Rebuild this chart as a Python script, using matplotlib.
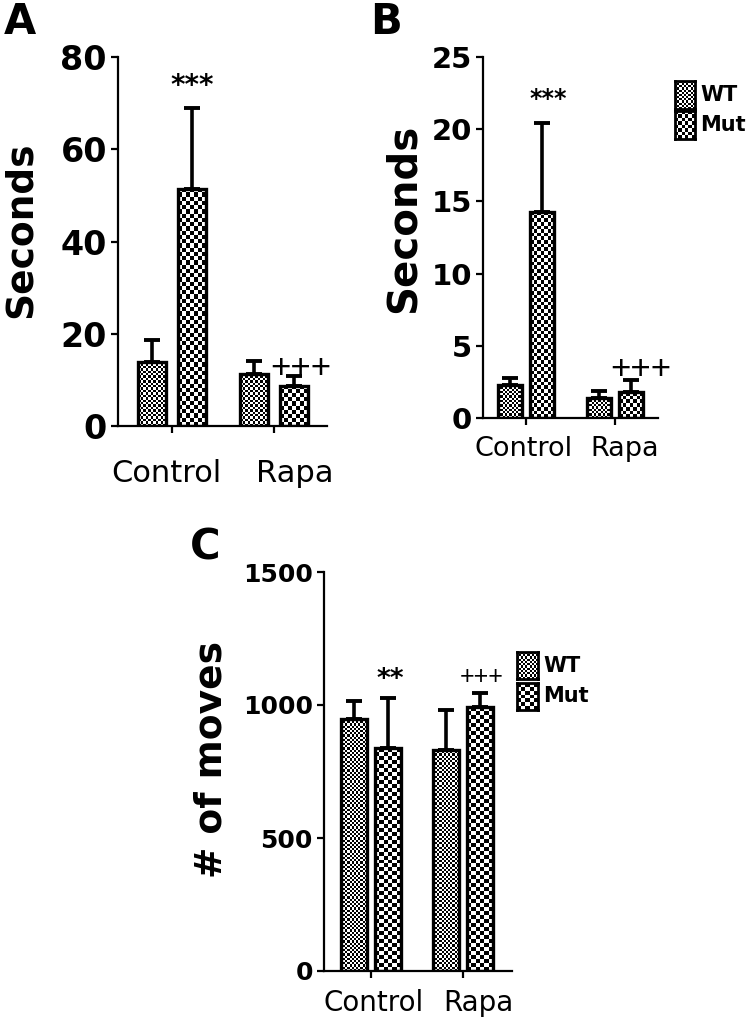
import matplotlib
matplotlib.use("Agg")
import matplotlib.pyplot as plt
from matplotlib.transforms import ScaledTranslation
import numpy as np

plt.rcParams['font.family'] = ['DejaVu Sans']

groups = ["Control", "Rapa"]
series = ["WT", "Mut"]

# panel A - seconds
a_wt = [13.9, 11.3]
a_wt_err = [4.7, 2.8]
a_mut = [51.4, 8.7]
a_mut_err = [17.5, 2.1]

# panel B - seconds
b_wt = [2.3, 1.4]
b_wt_err = [0.5, 0.5]
b_mut = [14.3, 1.8]
b_mut_err = [6.1, 0.8]

# panel C - number of moves
c_wt = [947, 831]
c_wt_err = [68, 150]
c_mut = [838, 992]
c_mut_err = [188, 53]

W, H = 750, 1030
fig = plt.figure(figsize=(7.5, 10.3), dpi=100)


def px_axes(x0, y0, x1, y1):
    # pixel box (top-left origin) -> figure axes
    return fig.add_axes([x0 / W, 1 - y1 / H, (x1 - x0) / W, (y1 - y0) / H])


def checker(ax, bar, cell):
    x0, y0 = bar.get_x(), bar.get_y()
    w, h = bar.get_width(), bar.get_height()
    p0 = ax.transData.transform((x0, y0))
    p1 = ax.transData.transform((x0 + w, y0 + h))
    nx = max(1, int(round((p1[0] - p0[0]) / cell)))
    ny = max(1, int(round((p1[1] - p0[1]) / cell)))
    grid = np.add.outer(np.arange(ny), np.arange(nx)) % 2
    im = ax.imshow(grid, cmap='gray', vmin=0, vmax=1, extent=(x0, x0 + w, y0, y0 + h),
                   origin='lower', aspect='auto', interpolation='nearest', zorder=2)
    im.set_clip_path(bar)


def panel(box, xlim, ylim, yticks, wt, wt_err, mut, mut_err, off, bw,
          tick_fs, cat_fs, cells, cat_pad, cat_dx):
    ax = px_axes(*box)
    ax.set_xlim(*xlim)
    ax.set_ylim(*ylim)
    ax.set_autoscale_on(False)
    x = np.arange(len(groups))
    for vals, errs, d, cell in [(wt, wt_err, -off, cells[0]), (mut, mut_err, off, cells[1])]:
        ax.errorbar(x + d, vals, yerr=[np.zeros(len(vals)), errs], fmt='none',
                    ecolor='black', elinewidth=2.6, capsize=6, capthick=2.8, zorder=1)
        bars = ax.bar(x + d, vals, bw, facecolor='none', edgecolor='black', linewidth=2.4, zorder=3)
        for b in bars:
            checker(ax, b, cell)
    for s in ['top', 'right']:
        ax.spines[s].set_visible(False)
    for s in ['left', 'bottom']:
        ax.spines[s].set_linewidth(1.6)
    ax.set_yticks(yticks)
    ax.set_yticklabels([str(t) for t in yticks], fontsize=tick_fs, fontweight='bold')
    ax.set_xticks(x)
    ax.set_xticklabels(groups, fontsize=cat_fs)
    ax.tick_params(axis='both', length=5, width=1.6, pad=3)
    ax.tick_params(axis='x', pad=cat_pad)
    for lab, dx in zip(ax.get_xticklabels(), cat_dx):
        lab.set_transform(lab.get_transform() + ScaledTranslation(dx / 100, 0, fig.dpi_scale_trans))
    return ax


def legend_box(x0, y0, x1, y1, cell, label, fs):
    lax = px_axes(x0, y0, x1, y1)
    nx = max(1, int(round((x1 - x0) / cell)))
    ny = max(1, int(round((y1 - y0) / cell)))
    grid = np.add.outer(np.arange(ny), np.arange(nx)) % 2
    lax.imshow(grid, cmap='gray', vmin=0, vmax=1, aspect='auto', interpolation='nearest')
    lax.set_xticks([])
    lax.set_yticks([])
    for s in lax.spines.values():
        s.set_linewidth(2.0)
    fig.text((x1 + 5) / W, 1 - (y0 + y1) / 2 / H, label, fontsize=fs, fontweight='bold',
             ha='left', va='center')


def mark(ax, xv, yv, txt, dx, dy, fs, weight='normal', family='DejaVu Sans'):
    ax.annotate(txt, (xv, yv), xytext=(dx, dy), textcoords='offset pixels',
                ha='center', va='center', fontsize=fs, fontweight=weight,
                family=family, annotation_clip=False)


# ---- A ----
axA = panel((118, 57, 327, 426), (-0.529, 1.52), (0, 80), [0, 20, 40, 60, 80],
            a_wt, a_wt_err, a_mut, a_mut_err, 0.195, 0.27, 24, 22, (2.4, 4.2), 19, (-6, 21))
mark(axA, 0.195, a_mut[0] + a_mut_err[0], "***", 0, 22, 20, 'bold')
mark(axA, 1.195, a_mut[1] + a_mut_err[1], "+++", 7, 8, 25, family='Liberation Sans')
fig.text(21 / W, 1 - 230 / H, "Seconds", rotation=90, fontsize=27, fontweight='bold',
         ha='center', va='center')
fig.text(4 / W, 1 - 22 / H, "A", fontsize=30, fontweight='bold', ha='left', va='center')

# ---- B ----
axB = panel((483, 57, 658, 418), (-0.483, 1.483), (0, 25), [0, 5, 10, 15, 20, 25],
            b_wt, b_wt_err, b_mut, b_mut_err, 0.185, 0.27, 21, 19.5, (2.2, 3.6), 8, (-2, 10))
mark(axB, 0.185, b_mut[0] + b_mut_err[0], "***", 6, 24, 17, 'bold')
mark(axB, 1.185, b_mut[1] + b_mut_err[1], "+++", 9, 11, 25, family='Liberation Sans')
fig.text(404 / W, 1 - 218 / H, "Seconds", rotation=90, fontsize=29, fontweight='bold',
         ha='center', va='center')
fig.text(370 / W, 1 - 22 / H, "B", fontsize=30, fontweight='bold', ha='left', va='center')
legend_box(675, 81, 695, 109, 2.2, series[0], 15)
legend_box(675, 111, 695, 139, 3.6, series[1], 15)

# ---- C ----
axC = panel((324, 572, 512, 971), (-0.511, 1.533), (0, 1500), [0, 500, 1000, 1500],
            c_wt, c_wt_err, c_mut, c_mut_err, 0.185, 0.28, 18, 20, (2.2, 4.0), 8, (3, 15))
mark(axC, 0.185, c_mut[0] + c_mut_err[0], "**", 2, 18, 19, 'bold')
mark(axC, 1.185, c_mut[1] + c_mut_err[1], "+++", 2, 16, 18, family='Liberation Sans')
fig.text(211 / W, 1 - 760 / H, "# of moves", rotation=90, fontsize=27, fontweight='bold',
         ha='center', va='center')
fig.text(190 / W, 1 - 548 / H, "C", fontsize=30, fontweight='bold', ha='left', va='center')
legend_box(517, 652, 538, 679, 2.2, series[0], 15)
legend_box(517, 683, 538, 710, 4.0, series[1], 15)

fig.savefig("out.png", dpi=100)
